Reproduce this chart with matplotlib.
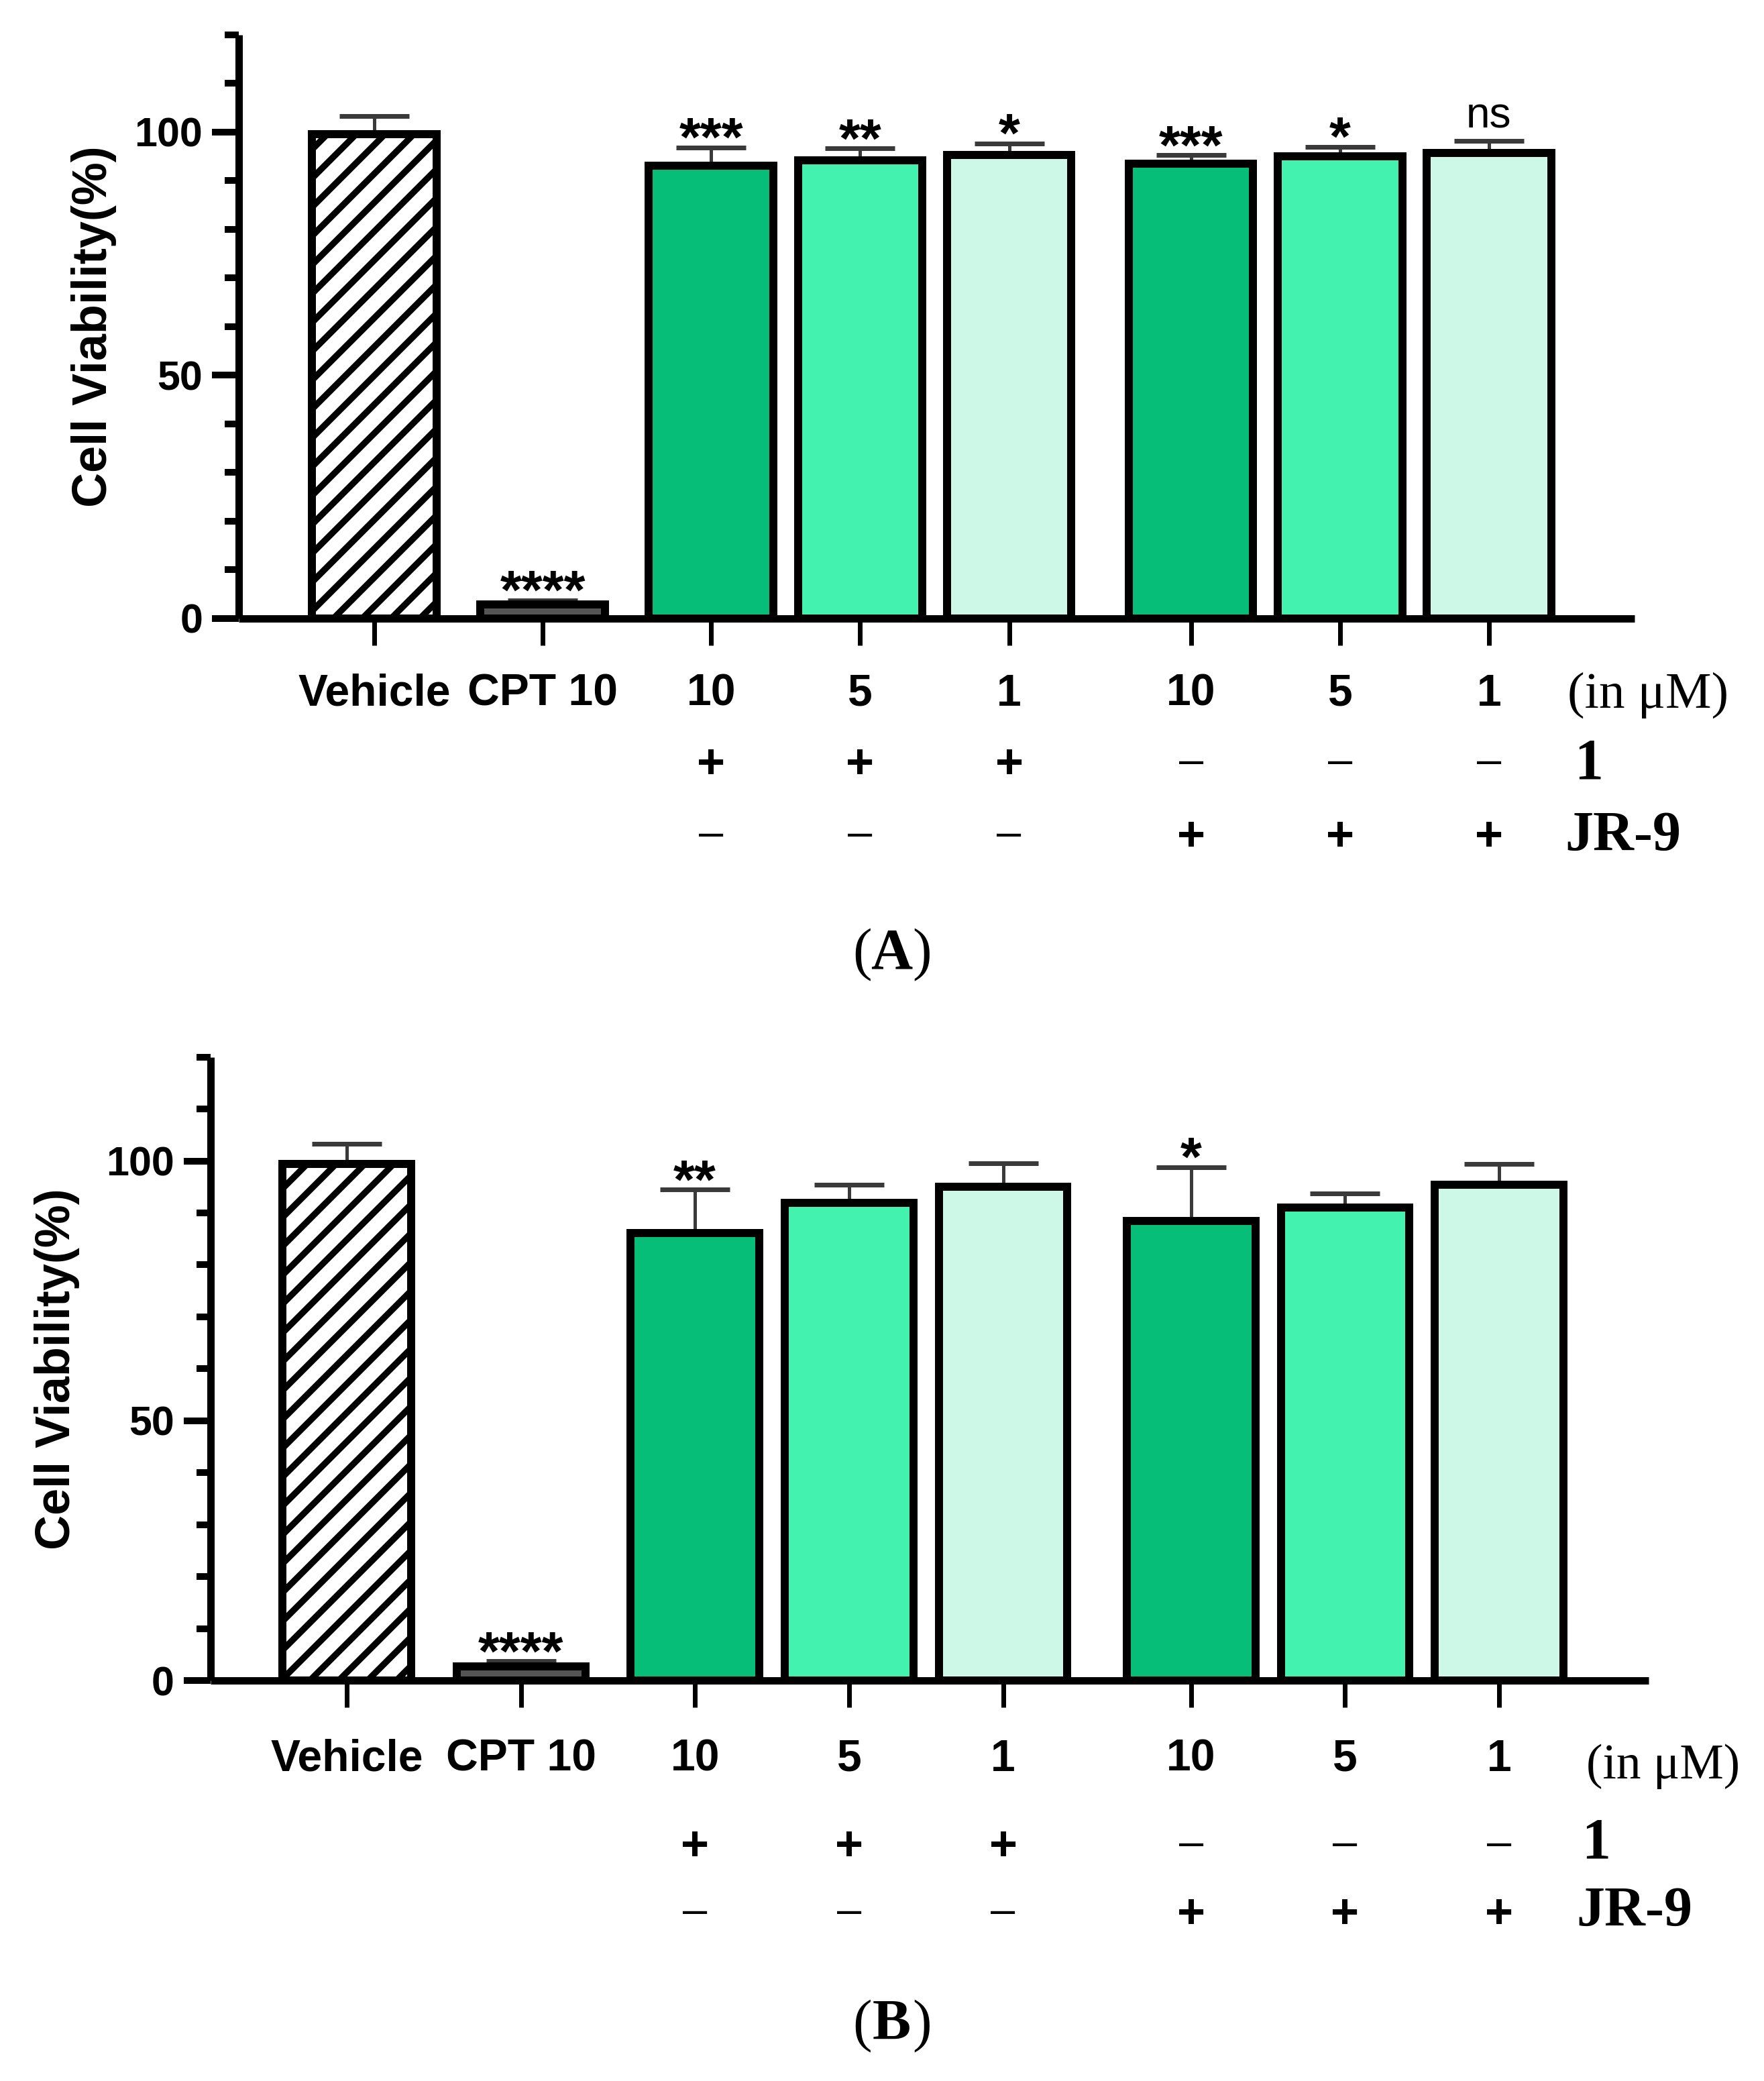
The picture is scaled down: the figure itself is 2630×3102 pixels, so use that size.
import matplotlib
matplotlib.use("Agg")
import matplotlib.pyplot as plt
import matplotlib.transforms as mtransforms
from matplotlib.ticker import MultipleLocator

# ---------------- data ----------------
categories = ["Vehicle", "CPT 10", "10", "5", "1", "10", "5", "1"]
compound1_row = ["", "", "+", "+", "+", "\u2013", "\u2013", "\u2013"]
jr9_row = ["", "", "\u2013", "\u2013", "\u2013", "+", "+", "+"]

viability_A = [99.5, 2.8, 93.0, 94.2, 95.3, 93.4, 95.0, 95.7]
error_A = [3.8, 0.9, 3.8, 2.4, 2.3, 1.8, 1.9, 2.5]
signif_A = ["", "****", "***", "**", "*", "***", "*", "ns"]

viability_B = [99.4, 2.7, 86.1, 91.9, 95.0, 88.4, 91.0, 95.4]
error_B = [3.9, 1.0, 8.4, 3.5, 4.6, 10.4, 2.8, 4.0]
signif_B = ["", "****", "**", "", "", "*", "", ""]

y_major_ticks = [0, 50, 100]
unit_label = "(in \u03bcM)"
row2_name = "1"
row3_name = "JR-9"
panel_names = ["A", "B"]

# ---------------- style ----------------
W, H, DPI = 2630, 3102, 258


def pt(px):
    return px * 72.0 / DPI


plt.rcParams["font.family"] = ["Liberation Sans", "DejaVu Sans"]
plt.rcParams["hatch.linewidth"] = pt(9.5)
SERIF = ["Liberation Serif", "DejaVu Serif"]

colors = ["white", "#555555", "#06BE78", "#43F2AE", "#CDF7E6",
          "#06BE78", "#43F2AE", "#CDF7E6"]
hatches = ["//", "", "", "", "", "", "", ""]
gaps = [0, 1.13, 1.13, 1.0, 1.0, 1.22, 1.0, 1.0]
positions = []
acc = 0.0
for g in gaps:
    acc += g
    positions.append(acc)

fig = plt.figure(figsize=(W / DPI, H / DPI), dpi=DPI)

panels = [
    dict(rect=(356, 51.5, 2437, 921.5), xlim=(-0.909, 8.456),
         vals=viability_A, errs=error_A, sigs=signif_A,
         ylab_x=174, pad=42, row2=1135, row3=1243,
         unit=(2337, 1055, 21.5), one=(2347, 1160), jr=(2333, 1268),
         letter_base=1443, letter=panel_names[0]),
    dict(rect=(314, 1575.6, 2458, 2505), xlim=(-0.884, 8.45),
         vals=viability_B, errs=error_B, sigs=signif_B,
         ylab_x=119, pad=47, row2=2748, row3=2849,
         unit=(2365, 2651, 20.5), one=(2358, 2770), jr=(2350, 2871),
         letter_base=3040, letter=panel_names[1]),
]

for P in panels:
    l, t, r, b = P["rect"]
    ax = fig.add_axes([l / W, 1 - b / H, (r - l) / W, (b - t) / H])
    ax.set_xlim(*P["xlim"])
    ax.set_ylim(0, 120)
    ax.patch.set_alpha(0)

    bars = ax.bar(positions, P["vals"], width=0.835, color=colors,
                  edgecolor="black", linewidth=pt(12), zorder=2)
    for patch, h in zip(bars, hatches):
        patch.set_hatch(h)

    ax.errorbar(positions, P["vals"], yerr=[[0] * len(P["errs"]), P["errs"]],
                fmt="none", ecolor="#3a3a3a", elinewidth=pt(5),
                capsize=pt(52), capthick=pt(7), zorder=1.5)

    for x, v, e, s in zip(positions, P["vals"], P["errs"], P["sigs"]):
        if not s:
            continue
        if s == "ns":
            ax.annotate(s, xy=(x, v + e), xytext=(0, pt(19)),
                        textcoords="offset points", ha="center",
                        va="baseline", fontsize=pt(64), zorder=4)
        else:
            ax.annotate(s, xy=(x, v + e), xytext=(0, pt(-12)),
                        textcoords="offset points", ha="center",
                        va="baseline", fontsize=pt(82), fontweight="bold",
                        zorder=4)

    for side in ["top", "right"]:
        ax.spines[side].set_visible(False)
    for side in ["left", "bottom"]:
        ax.spines[side].set_linewidth(pt(11))
        ax.spines[side].set_capstyle("butt")

    ax.set_yticks(y_major_ticks)
    ax.yaxis.set_minor_locator(MultipleLocator(10))
    ax.tick_params(axis="y", which="major", direction="out", length=pt(40),
                   width=pt(10), labelsize=pt(61), pad=pt(14))
    ax.tick_params(axis="y", which="minor", direction="out", length=pt(21),
                   width=pt(10))
    for lab in ax.get_yticklabels():
        lab.set_fontweight("bold")

    ax.set_xticks(positions)
    ax.set_xticklabels(categories, fontweight="bold")
    ax.tick_params(axis="x", which="major", direction="out", length=pt(40),
                   width=pt(7), labelsize=pt(66), pad=pt(P["pad"]))

    ax.set_ylabel("Cell Viability(%)", fontsize=pt(72), fontweight="bold")
    ax.yaxis.set_label_coords((P["ylab_x"] - l) / (r - l), 0.5)

    # treatment rows
    trans = mtransforms.blended_transform_factory(ax.transData, fig.transFigure)
    for row, center in [(compound1_row, P["row2"]), (jr9_row, P["row3"])]:
        for x, sym in zip(positions, row):
            if not sym:
                continue
            if sym == "+":
                fig.text(x, 1 - (center + 25) / H, sym, transform=trans,
                         ha="center", va="baseline", fontsize=pt(72),
                         fontweight="bold")
            else:
                fig.text(x, 1 - (center + 18) / H, sym, transform=trans,
                         ha="center", va="baseline", fontsize=pt(65))

    ux, uy, ufs = P["unit"]
    fig.text(ux / W, 1 - uy / H, unit_label, ha="left", va="baseline",
             fontsize=ufs, family=SERIF)
    ox, oy = P["one"]
    fig.text(ox / W, 1 - oy / H, row2_name, ha="left", va="baseline",
             fontsize=24, fontweight="bold", family=SERIF)
    jx, jy = P["jr"]
    fig.text(jx / W, 1 - jy / H, row3_name, ha="left", va="baseline",
             fontsize=23.5, fontweight="bold", family=SERIF)

    lb = 1 - P["letter_base"] / H
    fig.text(1300 / W, lb, "(", ha="right", va="baseline", fontsize=24,
             family=SERIF)
    fig.text(1329 / W, lb, P["letter"], ha="center", va="baseline",
             fontsize=24, fontweight="bold", family=SERIF)
    fig.text(1360 / W, lb, ")", ha="left", va="baseline", fontsize=24,
             family=SERIF)

fig.savefig("out.png", dpi=DPI, facecolor="white")
